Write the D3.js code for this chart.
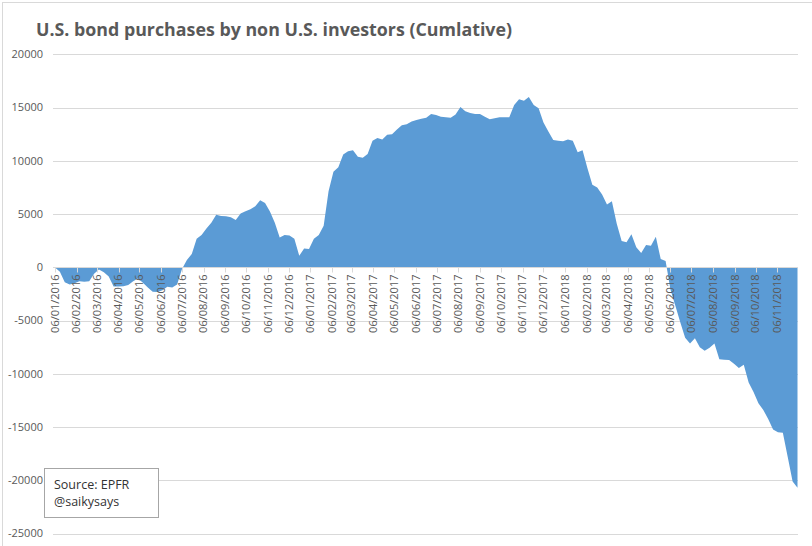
<!DOCTYPE html>
<html>
<head>
<meta charset="utf-8">
<script src="https://cdn.jsdelivr.net/npm/d3@7"></script>
<style>
  body { margin: 0; background: #fff; }
  svg { display: block; font-family: "Open Sans", sans-serif; }
</style>
</head>
<body>
<div id="chart"></div>
<script>
////////////////////////////////////////////////////////////
//////////////////////// Data //////////////////////////////
////////////////////////////////////////////////////////////

// weekly observations, first one on 06/01/2016
var firstWeek = "2016-01-06";

// cumulative flows (USD m)
var flows = [
  0, -400, -1400, -1600, -1500, -1300, -1350, -1300, -600, -200,
  -450, -850, -1800, -1800, -1780, -1650, -1300, -1050, -1450, -1900,
  -2300, -2320, -2150, -1820, -1900, -1600, -150, 700, 1250, 2700,
  3050, 3650, 4200, 4950, 4820, 4810, 4700, 4450, 5070, 5270,
  5450, 5750, 6300, 6050, 5250, 4200, 2800, 3030, 3000, 2700,
  1090, 1780, 1720, 2700, 3050, 3900, 7150, 8970, 9400, 10600,
  10900, 11000, 10400, 10300, 10650, 11900, 12150, 12000, 12450, 12500,
  12950, 13350, 13450, 13700, 13850, 13950, 14050, 14400, 14300, 14150,
  14100, 14050, 14350, 15050, 14650, 14500, 14400, 14400, 14150, 13900,
  14000, 14100, 14100, 14100, 15250, 15800, 15650, 16000, 15250, 14950,
  13600, 12750, 11950, 11900, 11850, 12000, 11900, 10800, 11000, 9300,
  7750, 7500, 6850, 5900, 6200, 4100, 2480, 2370, 3100, 1900,
  1350, 2100, 2030, 2880, 780, 600, -2100, -3600, -5150, -6600,
  -7150, -6650, -7500, -7830, -7550, -7150, -8620, -8680, -8700, -9050,
  -9450, -9150, -10800, -11700, -12750, -13400, -14250, -15230, -15480, -15540,
  -17800, -20100, -20700
];

var yTicks = [20000, 15000, 10000, 5000, 0, -5000, -10000, -15000, -20000, -25000];

var titleText = "U.S. bond purchases by non U.S. investors (Cumlative)";
var sourceLines = ["Source: EPFR", "@saikysays"];

////////////////////////////////////////////////////////////
//////////////////////// Set-Up ////////////////////////////
////////////////////////////////////////////////////////////

var width = 812, height = 546;
var parse = d3.timeParse("%Y-%m-%d");
var start = parse(firstWeek);

var data = flows.map(function(v, i) {
  return { date: d3.timeDay.offset(start, 7 * i), value: v };
});

var x = d3.scaleTime()
  .domain(d3.extent(data, function(d) { return d.date; }))
  .range([55, 797.5]);

var y = d3.scaleLinear()
  .domain([-25000, 20000])
  .range([533.6, 54.4]);

// month ticks on the 6th, as on the reference
var xTicks = d3.timeMonth.range(d3.timeMonth.floor(start), x.domain()[1])
  .map(function(m) { return d3.timeDay.offset(m, 5); })
  .filter(function(d) { return d >= start && d <= x.domain()[1]; });

var fmt = d3.timeFormat("%d/%m/%Y");

var svg = d3.select("#chart").append("svg")
  .attr("width", width)
  .attr("height", height);

// chart frame
svg.append("rect")
  .attr("x", 2.5).attr("y", 2.5)
  .attr("width", 840).attr("height", 580)
  .attr("fill", "#fff")
  .attr("stroke", "#d9d9d9");

////////////////////////////////////////////////////////////
//////////////////////// Grid //////////////////////////////
////////////////////////////////////////////////////////////

svg.append("g")
  .selectAll("line")
  .data(yTicks)
  .enter().append("line")
  .attr("x1", 53).attr("x2", 798)
  .attr("y1", function(d) { return Math.round(y(d)) + 0.5; })
  .attr("y2", function(d) { return Math.round(y(d)) + 0.5; })
  .attr("stroke", "#d9d9d9")
  .attr("stroke-width", 1);

svg.append("g")
  .selectAll("text")
  .data(yTicks)
  .enter().append("text")
  .attr("x", 43)
  .attr("y", function(d) { return y(d); })
  .attr("dy", "0.35em")
  .attr("text-anchor", "end")
  .style("font-size", "11px")
  .attr("fill", "#595959")
  .text(function(d) { return d; });

////////////////////////////////////////////////////////////
//////////////////////// Area //////////////////////////////
////////////////////////////////////////////////////////////

var area = d3.area()
  .x(function(d) { return x(d.date); })
  .y0(y(0))
  .y1(function(d) { return y(d.value); });

svg.append("path")
  .datum(data)
  .attr("d", area)
  .attr("fill", "#5b9bd5");

////////////////////////////////////////////////////////////
//////////////////////// X axis ////////////////////////////
////////////////////////////////////////////////////////////

var y0 = Math.round(y(0)) + 0.5;

svg.append("line")
  .attr("x1", 53).attr("x2", 798)
  .attr("y1", y0).attr("y2", y0)
  .attr("stroke", "#d9d9d9");

var xAxis = svg.append("g");

xAxis.selectAll("line")
  .data(xTicks)
  .enter().append("line")
  .attr("x1", function(d) { return Math.round(x(d)) + 0.5; })
  .attr("x2", function(d) { return Math.round(x(d)) + 0.5; })
  .attr("y1", y0).attr("y2", y0 + 5)
  .attr("stroke", "#d9d9d9");

xAxis.selectAll("text")
  .data(xTicks)
  .enter().append("text")
  .attr("transform", function(d) { return "translate(" + x(d) + "," + (y0 + 7) + ") rotate(-90)"; })
  .attr("dy", "0.35em")
  .attr("text-anchor", "end")
  .style("font-size", "11px")
  .attr("fill", "#595959")
  .text(function(d) { return fmt(d); });

////////////////////////////////////////////////////////////
//////////////////////// Title & note //////////////////////
////////////////////////////////////////////////////////////

svg.append("text")
  .attr("x", 36).attr("y", 36)
  .style("font-size", "17px")
  .style("font-weight", "bold")
  .attr("fill", "#595959")
  .attr("textLength", 476)
  .attr("lengthAdjust", "spacingAndGlyphs")
  .text(titleText);

var note = svg.append("g");
note.append("rect")
  .attr("x", 44.5).attr("y", 468.5)
  .attr("width", 114).attr("height", 49)
  .attr("fill", "#fff")
  .attr("stroke", "#a6a6a6");

note.selectAll("text")
  .data(sourceLines)
  .enter().append("text")
  .attr("x", 54)
  .attr("y", function(d, i) { return 489 + i * 17; })
  .style("font-size", "12.5px")
  .attr("fill", "#333")
  .text(function(d) { return d; });
</script>
</body>
</html>
